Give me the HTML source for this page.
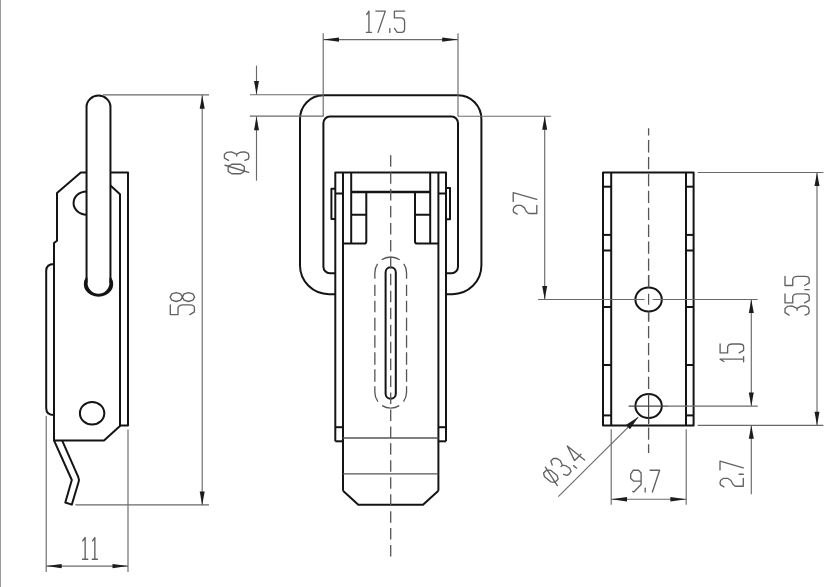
<!DOCTYPE html>
<html><head><meta charset="utf-8"><style>
html,body{margin:0;padding:0;background:#fff;}
body{width:840px;height:587px;overflow:hidden;font-family:"Liberation Sans",sans-serif;}
svg{display:block;}
</style></head><body>
<svg width="840" height="587" viewBox="0 0 840 587">
<rect x="0" y="0" width="840" height="587" fill="#fff"/>
<rect x="0" y="0" width="1" height="587" fill="#9a9a9a"/>
<path d="M54,264 Q46.2,264 46.2,271 L46.2,408 Q46.2,415 54,415" fill="none" stroke="#141414" stroke-width="2.0" stroke-linejoin="round" />
<path d="M86.55,172.5 L80.8,172.5 L57,193 L57,240.7 L54,243 L54,440.4 L104,440.4 L120,426 L120,194.2 L110.45,185.5" fill="none" stroke="#141414" stroke-width="2.0" stroke-linejoin="round" />
<path d="M110.45,172.5 L128,172.5 L128,425.5 L120,425.5" fill="none" stroke="#141414" stroke-width="2.0" stroke-linejoin="round" />
<path d="M86.55,191.4 A13,11.65 0 0 0 86.55,214.7" fill="none" stroke="#141414" stroke-width="2.0" stroke-linejoin="round" />
<ellipse cx="92.1" cy="413.2" rx="12.2" ry="11.3" fill="none" stroke="#141414" stroke-width="2.0"/>
<path d="M86.55,283 L86.55,106.9 A11.95,11.3 0 0 1 110.45,106.9 L110.45,283" fill="none" stroke="#141414" stroke-width="2.0" stroke-linejoin="round" />
<path d="M85.67,277.8 A14.7,12.7 0 1 0 111.33,277.8 L109.45,277.8 L109.45,282.85 A10.95,10.95 0 0 1 87.55,282.85 L87.55,277.8 Z" fill="#141414"/>
<path d="M54,440.4 L71.8,480 L65.3,502.5 L71.8,504.6 L78.5,482.2 Q79.4,479.4 78.2,476.8 L62.1,440.4" fill="none" stroke="#141414" stroke-width="2.0" stroke-linejoin="round" />
<line x1="103" y1="94.9" x2="209" y2="94.9" stroke="#6a6a6a" stroke-width="1.15" />
<line x1="75.4" y1="504.9" x2="209" y2="504.9" stroke="#6a6a6a" stroke-width="1.15" />
<line x1="202.2" y1="95" x2="202.2" y2="505" stroke="#6a6a6a" stroke-width="1.15" />
<path d="M202.20,95.40 L204.70,108.70 L199.70,108.70 Z" fill="#1c1c1c"/>
<path d="M202.20,504.90 L199.70,491.60 L204.70,491.60 Z" fill="#1c1c1c"/>
<path d="M1,0 L0,0 L0,0.32 L0.68,0.32 Q1,0.35 1,0.52 L1,0.82 Q1,1 0.7,1 L0.28,1 L0,0.81" transform="matrix(0.000,-9.700,24.100,0.000,170.30,314.60)" fill="none" stroke="#626262" stroke-width="1.35" vector-effect="non-scaling-stroke" stroke-linejoin="round" stroke-linecap="round"/>
<path d="M0.5,0 L0.85,0.07 L1,0.25 L0.85,0.43 L0.5,0.5 L0.15,0.43 L0,0.25 L0.15,0.07 Z M0.5,0.5 L0.85,0.57 L1,0.75 L0.85,0.93 L0.5,1 L0.15,0.93 L0,0.75 L0.15,0.57 Z" transform="matrix(0.000,-8.900,24.500,0.000,170.10,301.50)" fill="none" stroke="#626262" stroke-width="1.35" vector-effect="non-scaling-stroke" stroke-linejoin="round" stroke-linecap="round"/>
<line x1="46.2" y1="416" x2="46.2" y2="572" stroke="#6a6a6a" stroke-width="1.15" />
<line x1="128" y1="429.4" x2="128" y2="572" stroke="#6a6a6a" stroke-width="1.15" />
<line x1="46.2" y1="566.1" x2="128" y2="566.1" stroke="#6a6a6a" stroke-width="1.15" />
<path d="M46.20,566.10 L61.70,563.90 L61.70,568.30 Z" fill="#1c1c1c"/>
<path d="M128.00,566.10 L112.50,568.30 L112.50,563.90 Z" fill="#1c1c1c"/>
<path d="M0.05,0.16 L0.5,0 L0.5,1 M0,1 L1,1" transform="matrix(5.300,0.000,0.000,21.700,82.50,537.50)" fill="none" stroke="#626262" stroke-width="1.35" vector-effect="non-scaling-stroke" stroke-linejoin="round" stroke-linecap="round"/>
<path d="M0.05,0.16 L0.5,0 L0.5,1 M0,1 L1,1" transform="matrix(5.100,0.000,0.000,21.700,92.30,537.50)" fill="none" stroke="#626262" stroke-width="1.35" vector-effect="non-scaling-stroke" stroke-linejoin="round" stroke-linecap="round"/>
<path d="M335.3,294.2 L329,294.2 A29,28.6 0 0 1 300,265.6 L300,119.2 A23.2,23.9 0 0 1 323.2,95.3 L458.2,95.3 A23.2,23.9 0 0 1 481.4,119.2 L481.4,265.6 A29,28.6 0 0 1 452.4,294.2 L446,294.2" fill="none" stroke="#141414" stroke-width="2.0" stroke-linejoin="round" />
<path d="M335.3,273.2 L329.8,273.2 A6.4,6.4 0 0 1 323.4,266.8 L323.4,123 A6.4,6.4 0 0 1 329.8,116.6 L451.6,116.6 A6.4,6.4 0 0 1 458,123 L458,266.8 A6.4,6.4 0 0 1 451.6,273.2 L446,273.2" fill="none" stroke="#141414" stroke-width="2.0" stroke-linejoin="round" />
<path d="M335.3,441.3 L335.3,172.5 L446,172.5 L446,441.3" fill="none" stroke="#141414" stroke-width="2.0" stroke-linejoin="round" />
<line x1="343" y1="172.5" x2="343" y2="490.7" stroke="#141414" stroke-width="2.0" />
<line x1="438.4" y1="172.5" x2="438.4" y2="490.7" stroke="#141414" stroke-width="2.0" />
<line x1="351.2" y1="172.5" x2="351.2" y2="243.5" stroke="#141414" stroke-width="2.0" />
<line x1="430.2" y1="172.5" x2="430.2" y2="243.5" stroke="#141414" stroke-width="2.0" />
<line x1="335.3" y1="193.5" x2="343" y2="193.5" stroke="#141414" stroke-width="2.0" />
<line x1="438.4" y1="193.5" x2="446" y2="193.5" stroke="#141414" stroke-width="2.0" />
<line x1="351.2" y1="192.1" x2="430.2" y2="192.1" stroke="#141414" stroke-width="2.5" />
<path d="M335.3,188.7 L331.4,188.7 L331.4,219 L335.3,219" fill="none" stroke="#141414" stroke-width="2.0" stroke-linejoin="round" />
<path d="M446,188.0 L450,188.0 L450,219.3 L446,219.3" fill="none" stroke="#141414" stroke-width="2.0" stroke-linejoin="round" />
<path d="M351.2,214.8 L366.3,214.8 M366.3,192.5 L366.3,241.4 Q366.3,243.5 364.3,243.5 L343,243.5" fill="none" stroke="#141414" stroke-width="2.0" stroke-linejoin="round" />
<path d="M430.2,214.8 L415,214.8 M415,192.5 L415,241.4 Q415,243.5 417,243.5 L438.4,243.5" fill="none" stroke="#141414" stroke-width="2.0" stroke-linejoin="round" />
<line x1="335.3" y1="427.2" x2="343" y2="427.2" stroke="#141414" stroke-width="2.0" />
<line x1="438.4" y1="427.2" x2="446" y2="427.2" stroke="#141414" stroke-width="2.0" />
<line x1="335.3" y1="441.3" x2="343" y2="441.3" stroke="#141414" stroke-width="2.0" />
<line x1="438.4" y1="441.3" x2="446" y2="441.3" stroke="#141414" stroke-width="2.0" />
<path d="M343,490.7 L358.3,504.8 L423,504.8 L438.4,490.7" fill="none" stroke="#141414" stroke-width="2.0" stroke-linejoin="round" />
<line x1="343" y1="438" x2="438.4" y2="438" stroke="#555" stroke-width="1.3" />
<line x1="343" y1="473.8" x2="438.4" y2="473.8" stroke="#555" stroke-width="1.3" />
<path d="M385.6,393.7 L385.6,272.4 A5.1,5.1 0 0 1 395.8,272.4 L395.8,393.7 A5.1,5.1 0 0 1 385.6,393.7 Z" fill="none" stroke="#141414" stroke-width="2.0" stroke-linejoin="round" />
<path d="M390.7,257 A15.85,15.85 0 0 0 374.84999999999997,272.85 L374.84999999999997,392.3 A15.85,15.85 0 0 0 390.7,408.15" fill="none" stroke="#555" stroke-width="1.3" stroke-linejoin="round" stroke-dasharray="9.5 5.8 15.35 6.0 11.3 4.6 11.5 5.6 13 4.4 12.6 4.4 12.6 4.4 12.5 4.5 16.1 5.8 12 4"/>
<path d="M390.7,257 A15.85,15.85 0 0 1 406.55,272.85 L406.55,392.3 A15.85,15.85 0 0 1 390.7,408.15" fill="none" stroke="#555" stroke-width="1.3" stroke-linejoin="round" stroke-dasharray="9.5 5.8 15.35 6.0 11.3 4.6 11.5 5.6 13 4.4 12.6 4.4 12.6 4.4 12.5 4.5 16.1 5.8 12 4"/>
<line x1="390.7" y1="155.2" x2="390.7" y2="556.8" stroke="#555" stroke-width="1.3" stroke-dasharray="11.5 5.45"/>
<line x1="323.2" y1="33.3" x2="323.2" y2="116.6" stroke="#6a6a6a" stroke-width="1.15" />
<line x1="458" y1="33.3" x2="458" y2="116.6" stroke="#6a6a6a" stroke-width="1.15" />
<line x1="323.2" y1="39.6" x2="458" y2="39.6" stroke="#6a6a6a" stroke-width="1.15" />
<path d="M323.20,39.60 L339.00,37.40 L339.00,41.80 Z" fill="#1c1c1c"/>
<path d="M458.00,39.60 L442.20,41.80 L442.20,37.40 Z" fill="#1c1c1c"/>
<path d="M0.05,0.16 L0.5,0 L0.5,1 M0,1 L1,1" transform="matrix(5.100,0.000,0.000,21.300,366.40,11.10)" fill="none" stroke="#626262" stroke-width="1.35" vector-effect="non-scaling-stroke" stroke-linejoin="round" stroke-linecap="round"/>
<path d="M0,0 L1,0 L0.24,1" transform="matrix(9.500,0.000,0.000,21.300,375.80,11.10)" fill="none" stroke="#626262" stroke-width="1.35" vector-effect="non-scaling-stroke" stroke-linejoin="round" stroke-linecap="round"/>
<path d="M0.5,0.82 L0.5,1" transform="matrix(4.000,0.000,0.000,21.300,387.80,11.10)" fill="none" stroke="#626262" stroke-width="1.35" vector-effect="non-scaling-stroke" stroke-linejoin="round" stroke-linecap="round"/>
<path d="M1,0 L0,0 L0,0.32 L0.68,0.32 Q1,0.35 1,0.52 L1,0.82 Q1,1 0.7,1 L0.28,1 L0,0.81" transform="matrix(10.200,0.000,0.000,21.300,394.40,11.10)" fill="none" stroke="#626262" stroke-width="1.35" vector-effect="non-scaling-stroke" stroke-linejoin="round" stroke-linecap="round"/>
<line x1="249.9" y1="94.7" x2="323" y2="94.7" stroke="#6a6a6a" stroke-width="1.15" />
<line x1="249.9" y1="116.1" x2="323.4" y2="116.1" stroke="#6a6a6a" stroke-width="1.15" />
<line x1="256.5" y1="65.6" x2="256.5" y2="94.5" stroke="#6a6a6a" stroke-width="1.15" />
<line x1="256.5" y1="116.1" x2="256.5" y2="180.7" stroke="#6a6a6a" stroke-width="1.15" />
<path d="M256.50,94.50 L254.00,81.00 L259.00,81.00 Z" fill="#1c1c1c"/>
<path d="M256.50,116.70 L259.00,130.20 L254.00,130.20 Z" fill="#1c1c1c"/>
<path d="M0.25,0.15 L0.75,0.15 L1,0.3 L1,0.66 L0.75,0.81 L0.25,0.81 L0,0.66 L0,0.3 Z M0.89,0.02 L0.14,0.99" transform="matrix(0.000,-9.500,24.400,0.000,224.50,173.70)" fill="none" stroke="#626262" stroke-width="1.35" vector-effect="non-scaling-stroke" stroke-linejoin="round" stroke-linecap="round"/>
<path d="M0.05,0.17 L0.3,0 L0.7,0 L0.95,0.1 L1,0.28 L0.75,0.5 L0.55,0.5 M0.75,0.5 L0.96,0.65 L1,0.83 L0.83,0.97 L0.45,1 L0.2,0.97 L0.05,0.83" transform="matrix(0.000,-8.900,24.600,0.000,224.40,160.80)" fill="none" stroke="#626262" stroke-width="1.35" vector-effect="non-scaling-stroke" stroke-linejoin="round" stroke-linecap="round"/>
<line x1="458" y1="116.2" x2="551.1" y2="116.2" stroke="#6a6a6a" stroke-width="1.15" />
<line x1="544.7" y1="116.2" x2="544.7" y2="299.4" stroke="#6a6a6a" stroke-width="1.15" />
<path d="M544.70,116.30 L547.20,129.80 L542.20,129.80 Z" fill="#1c1c1c"/>
<path d="M544.70,299.40 L542.20,285.90 L547.20,285.90 Z" fill="#1c1c1c"/>
<path d="M0.03,0.17 L0.25,0.02 L0.5,0 L0.78,0.03 L1,0.15 L1,0.33 L0.75,0.47 L0.3,0.56 L0.1,0.66 L0.1,1 L1,1" transform="matrix(0.000,-9.000,23.600,0.000,513.20,214.40)" fill="none" stroke="#626262" stroke-width="1.35" vector-effect="non-scaling-stroke" stroke-linejoin="round" stroke-linecap="round"/>
<path d="M0,0 L1,0 L0.24,1" transform="matrix(0.000,-8.900,23.600,0.000,513.20,201.50)" fill="none" stroke="#626262" stroke-width="1.35" vector-effect="non-scaling-stroke" stroke-linejoin="round" stroke-linecap="round"/>
<path d="M603,172.5 L693.6,172.5 L693.6,425.6 L603,425.6 Z" fill="none" stroke="#141414" stroke-width="2.0" stroke-linejoin="round" />
<line x1="611.2" y1="172.5" x2="611.2" y2="425.6" stroke="#141414" stroke-width="2.0" />
<line x1="686" y1="172.5" x2="686" y2="425.6" stroke="#141414" stroke-width="2.0" />
<line x1="603" y1="186.7" x2="611.2" y2="186.7" stroke="#141414" stroke-width="2.0" />
<line x1="686" y1="186.7" x2="693.6" y2="186.7" stroke="#141414" stroke-width="2.0" />
<line x1="603" y1="234.9" x2="611.2" y2="234.9" stroke="#141414" stroke-width="2.0" />
<line x1="686" y1="234.9" x2="693.6" y2="234.9" stroke="#141414" stroke-width="2.0" />
<line x1="603" y1="250.5" x2="611.2" y2="250.5" stroke="#141414" stroke-width="2.0" />
<line x1="686" y1="250.5" x2="693.6" y2="250.5" stroke="#141414" stroke-width="2.0" />
<line x1="603" y1="307" x2="611.2" y2="307" stroke="#141414" stroke-width="2.0" />
<line x1="686" y1="307" x2="693.6" y2="307" stroke="#141414" stroke-width="2.0" />
<line x1="603" y1="365" x2="611.2" y2="365" stroke="#141414" stroke-width="2.0" />
<line x1="686" y1="365" x2="693.6" y2="365" stroke="#141414" stroke-width="2.0" />
<line x1="603" y1="415.4" x2="611.2" y2="415.4" stroke="#141414" stroke-width="2.0" />
<line x1="686" y1="415.4" x2="693.6" y2="415.4" stroke="#141414" stroke-width="2.0" />
<line x1="648.6" y1="128.2" x2="648.6" y2="453" stroke="#555" stroke-width="1.3" stroke-dasharray="12.3 4.6" stroke-dashoffset="5"/>
<ellipse cx="648.6" cy="299.5" rx="13.2" ry="12" fill="#fff" stroke="#141414" stroke-width="2.0"/>
<ellipse cx="648.6" cy="406.1" rx="13.2" ry="12" fill="#fff" stroke="#141414" stroke-width="2.0"/>
<line x1="648.6" y1="293.8" x2="648.6" y2="304.8" stroke="#555" stroke-width="1.2" />
<line x1="538.1" y1="299.5" x2="644.7" y2="299.5" stroke="#6a6a6a" stroke-width="1.15" />
<line x1="652.6" y1="299.5" x2="757.7" y2="299.5" stroke="#6a6a6a" stroke-width="1.15" />
<line x1="648.6" y1="275" x2="648.6" y2="287.5" stroke="#555" stroke-width="1.3" />
<line x1="648.6" y1="311.5" x2="648.6" y2="321.5" stroke="#555" stroke-width="1.3" />
<line x1="648.6" y1="393.6" x2="648.6" y2="424" stroke="#444" stroke-width="1.2" />
<line x1="628.6" y1="406.1" x2="668" y2="406.1" stroke="#444" stroke-width="1.2" />
<line x1="668" y1="406.1" x2="757.7" y2="406.1" stroke="#6a6a6a" stroke-width="1.15" />
<line x1="697.7" y1="172.5" x2="823.4" y2="172.5" stroke="#6a6a6a" stroke-width="1.15" />
<line x1="697.7" y1="425.3" x2="823.4" y2="425.3" stroke="#6a6a6a" stroke-width="1.15" />
<line x1="817" y1="172.5" x2="817" y2="425.3" stroke="#6a6a6a" stroke-width="1.15" />
<path d="M817.00,172.50 L819.50,186.00 L814.50,186.00 Z" fill="#1c1c1c"/>
<path d="M817.00,425.30 L814.50,411.80 L819.50,411.80 Z" fill="#1c1c1c"/>
<path d="M0.05,0.17 L0.3,0 L0.7,0 L0.95,0.1 L1,0.28 L0.75,0.5 L0.55,0.5 M0.75,0.5 L0.96,0.65 L1,0.83 L0.83,0.97 L0.45,1 L0.2,0.97 L0.05,0.83" transform="matrix(0.000,-9.700,24.200,0.000,785.00,315.60)" fill="none" stroke="#626262" stroke-width="1.35" vector-effect="non-scaling-stroke" stroke-linejoin="round" stroke-linecap="round"/>
<path d="M1,0 L0,0 L0,0.32 L0.68,0.32 Q1,0.35 1,0.52 L1,0.82 Q1,1 0.7,1 L0.28,1 L0,0.81" transform="matrix(0.000,-9.000,24.200,0.000,785.00,302.90)" fill="none" stroke="#626262" stroke-width="1.35" vector-effect="non-scaling-stroke" stroke-linejoin="round" stroke-linecap="round"/>
<path d="M0.5,0.82 L0.5,1" transform="matrix(0.000,-4.000,24.200,0.000,785.00,291.60)" fill="none" stroke="#626262" stroke-width="1.35" vector-effect="non-scaling-stroke" stroke-linejoin="round" stroke-linecap="round"/>
<path d="M1,0 L0,0 L0,0.32 L0.68,0.32 Q1,0.35 1,0.52 L1,0.82 Q1,1 0.7,1 L0.28,1 L0,0.81" transform="matrix(0.000,-9.200,24.200,0.000,785.00,285.50)" fill="none" stroke="#626262" stroke-width="1.35" vector-effect="non-scaling-stroke" stroke-linejoin="round" stroke-linecap="round"/>
<line x1="751.3" y1="299.5" x2="751.3" y2="406.1" stroke="#6a6a6a" stroke-width="1.15" />
<path d="M751.30,299.50 L753.80,313.00 L748.80,313.00 Z" fill="#1c1c1c"/>
<path d="M751.30,406.10 L748.80,392.60 L753.80,392.60 Z" fill="#1c1c1c"/>
<path d="M0.05,0.16 L0.5,0 L0.5,1 M0,1 L1,1" transform="matrix(0.000,-5.200,23.500,0.000,720.10,361.80)" fill="none" stroke="#626262" stroke-width="1.35" vector-effect="non-scaling-stroke" stroke-linejoin="round" stroke-linecap="round"/>
<path d="M1,0 L0,0 L0,0.32 L0.68,0.32 Q1,0.35 1,0.52 L1,0.82 Q1,1 0.7,1 L0.28,1 L0,0.81" transform="matrix(0.000,-8.900,23.500,0.000,720.10,352.90)" fill="none" stroke="#626262" stroke-width="1.35" vector-effect="non-scaling-stroke" stroke-linejoin="round" stroke-linecap="round"/>
<line x1="751.3" y1="425.3" x2="751.3" y2="494.3" stroke="#6a6a6a" stroke-width="1.15" />
<path d="M751.30,425.30 L753.80,438.80 L748.80,438.80 Z" fill="#1c1c1c"/>
<path d="M0.03,0.17 L0.25,0.02 L0.5,0 L0.78,0.03 L1,0.15 L1,0.33 L0.75,0.47 L0.3,0.56 L0.1,0.66 L0.1,1 L1,1" transform="matrix(0.000,-8.800,23.300,0.000,720.00,487.10)" fill="none" stroke="#626262" stroke-width="1.35" vector-effect="non-scaling-stroke" stroke-linejoin="round" stroke-linecap="round"/>
<path d="M0.5,0.82 L0.5,1" transform="matrix(0.000,-4.000,23.300,0.000,720.00,476.30)" fill="none" stroke="#626262" stroke-width="1.35" vector-effect="non-scaling-stroke" stroke-linejoin="round" stroke-linecap="round"/>
<path d="M0,0 L1,0 L0.24,1" transform="matrix(0.000,-8.800,23.300,0.000,720.00,469.90)" fill="none" stroke="#626262" stroke-width="1.35" vector-effect="non-scaling-stroke" stroke-linejoin="round" stroke-linecap="round"/>
<line x1="611.2" y1="429.3" x2="611.2" y2="504.8" stroke="#6a6a6a" stroke-width="1.15" />
<line x1="686.2" y1="429.3" x2="686.2" y2="504.8" stroke="#6a6a6a" stroke-width="1.15" />
<line x1="611.2" y1="499.2" x2="686.2" y2="499.2" stroke="#6a6a6a" stroke-width="1.15" />
<path d="M611.20,499.20 L627.00,497.00 L627.00,501.40 Z" fill="#1c1c1c"/>
<path d="M686.20,499.20 L670.40,501.40 L670.40,497.00 Z" fill="#1c1c1c"/>
<path d="M1,0.13 L0.75,0 L0.25,0 L0,0.18 L0,0.38 L0.28,0.5 L1,0.5 M1,0.13 L1,0.66 L0.3,1 L0.2,0.98" transform="matrix(10.400,0.000,0.000,21.800,630.70,470.20)" fill="none" stroke="#626262" stroke-width="1.35" vector-effect="non-scaling-stroke" stroke-linejoin="round" stroke-linecap="round"/>
<path d="M0.5,0.82 L0.5,1" transform="matrix(4.000,0.000,0.000,21.800,643.20,470.20)" fill="none" stroke="#626262" stroke-width="1.35" vector-effect="non-scaling-stroke" stroke-linejoin="round" stroke-linecap="round"/>
<path d="M0,0 L1,0 L0.24,1" transform="matrix(9.500,0.000,0.000,21.800,650.10,470.20)" fill="none" stroke="#626262" stroke-width="1.35" vector-effect="non-scaling-stroke" stroke-linejoin="round" stroke-linecap="round"/>
<line x1="558.3" y1="496.7" x2="638.3" y2="417.2" stroke="#6a6a6a" stroke-width="1.15" />
<path d="M638.20,416.90 L630.03,429.25 L625.80,424.99 Z" fill="#1c1c1c"/>
<path d="M0.25,0.15 L0.75,0.15 L1,0.3 L1,0.66 L0.75,0.81 L0.25,0.81 L0,0.66 L0,0.3 Z M0.89,0.02 L0.14,0.99" transform="matrix(6.400,-6.400,17.300,14.000,539.35,472.60)" fill="none" stroke="#626262" stroke-width="1.35" vector-effect="non-scaling-stroke" stroke-linejoin="round" stroke-linecap="round"/>
<path d="M0.05,0.17 L0.3,0 L0.7,0 L0.95,0.1 L1,0.28 L0.75,0.5 L0.55,0.5 M0.75,0.5 L0.96,0.65 L1,0.83 L0.83,0.97 L0.45,1 L0.2,0.97 L0.05,0.83" transform="matrix(6.400,-6.400,17.300,14.000,548.95,463.00)" fill="none" stroke="#626262" stroke-width="1.35" vector-effect="non-scaling-stroke" stroke-linejoin="round" stroke-linecap="round"/>
<path d="M0.5,0.82 L0.5,1" transform="matrix(2.900,-2.900,17.300,14.000,557.90,455.60)" fill="none" stroke="#626262" stroke-width="1.35" vector-effect="non-scaling-stroke" stroke-linejoin="round" stroke-linecap="round"/>
<path d="M0.75,1 L0.75,0 L0,0.7 L1,0.7" transform="matrix(6.400,-6.400,17.300,14.000,562.50,450.80)" fill="none" stroke="#626262" stroke-width="1.35" vector-effect="non-scaling-stroke" stroke-linejoin="round" stroke-linecap="round"/>
</svg>
</body></html>
